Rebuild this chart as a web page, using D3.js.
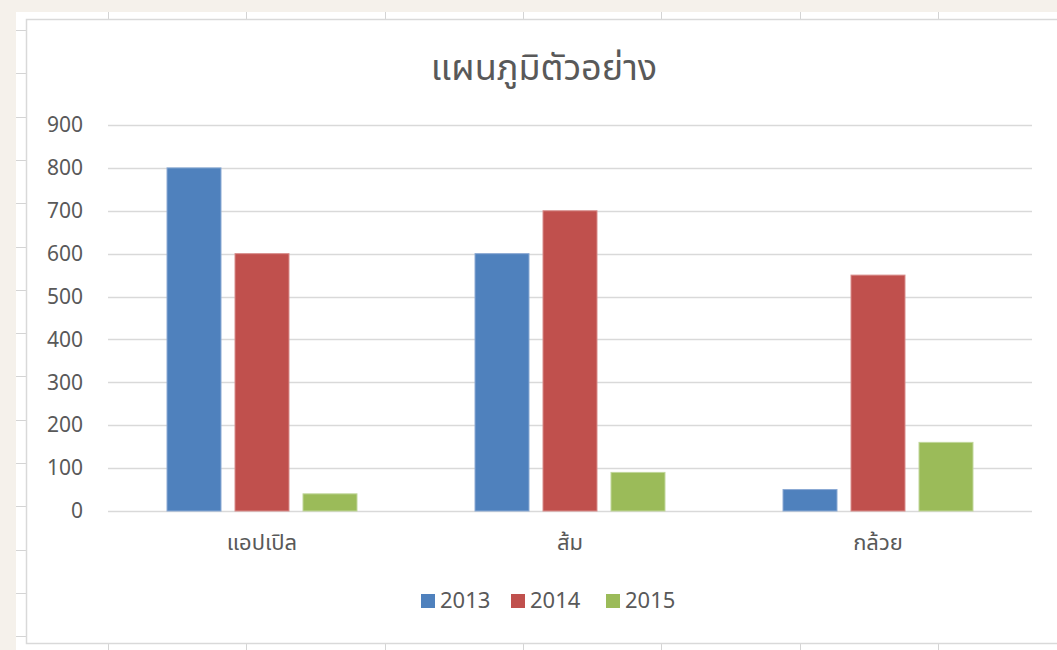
<!DOCTYPE html>
<html>
<head>
<meta charset="utf-8">
<script src="https://cdn.jsdelivr.net/npm/d3@7"></script>
<style>
  body { margin: 0; background: #f5f1eb; }
  svg { display: block; }
  text { font-family: "Noto Sans Thai", "Leelawadee UI", Tahoma, "Noto Sans", "DejaVu Sans", sans-serif; fill: #595959; }
  .axis path, .axis line { display: none; }
</style>
</head>
<body>
<script>
var categories = ["แอปเปิล", "ส้ม", "กล้วย"];
var seriesNames = ["2013", "2014", "2015"];
var values2013 = [800, 600, 50];
var values2014 = [600, 700, 550];
var values2015 = [40, 90, 160];
var yTicks = [0, 100, 200, 300, 400, 500, 600, 700, 800, 900];
var title = "แผนภูมิตัวอย่าง";

var colors = {"2013": "#4f81bd", "2014": "#c0504d", "2015": "#9bbb59"};
var strokes = {"2013": "#8aa9d3", "2014": "#d88c8a", "2015": "#c0d69a"};

var W = 1057, H = 650;
var svg = d3.select("body").append("svg")
    .attr("width", W)
    .attr("height", H);

// spreadsheet behind the chart
svg.append("rect")
    .attr("x", 16).attr("y", 12)
    .attr("width", W - 16).attr("height", H - 12)
    .attr("fill", "#ffffff");

var colLines = d3.range(7).map(function(i) { return 108 + i * 138.3; });
var rowLines = d3.range(15).map(function(i) { return 30 + i * 43.3; });

svg.selectAll(".col")
    .data(colLines)
    .enter().append("line")
    .attr("x1", function(d) { return Math.round(d) + 0.5; })
    .attr("x2", function(d) { return Math.round(d) + 0.5; })
    .attr("y1", 12).attr("y2", H)
    .attr("stroke", "#d4d4d4");

svg.selectAll(".row")
    .data(rowLines.filter(function(d) { return d < H; }))
    .enter().append("line")
    .attr("x1", 16).attr("x2", W)
    .attr("y1", function(d) { return Math.round(d) + 0.5; })
    .attr("y2", function(d) { return Math.round(d) + 0.5; })
    .attr("stroke", "#d4d4d4");

// chart box
svg.append("rect")
    .attr("x", 26.5).attr("y", 19.5)
    .attr("width", W).attr("height", 624)
    .attr("fill", "#ffffff")
    .attr("stroke", "#d9d9d9")
    .attr("stroke-width", 1.5);

var x0 = d3.scaleBand()
    .domain(categories)
    .range([108, 1032]);

var x1 = d3.scaleBand()
    .domain(seriesNames)
    .range([0, x0.bandwidth()])
    .paddingInner(0.206)
    .paddingOuter(0.868);

var y = d3.scaleLinear()
    .domain([0, 900])
    .range([511, 125]);

// gridlines
svg.selectAll(".grid")
    .data(yTicks)
    .enter().append("line")
    .attr("x1", 108).attr("x2", 1032)
    .attr("y1", function(d) { return Math.round(y(d)) + 0.5; })
    .attr("y2", function(d) { return Math.round(y(d)) + 0.5; })
    .attr("stroke", "#d9d9d9")
    .attr("stroke-width", 1.5);

// y axis labels
svg.append("g")
    .attr("class", "axis")
    .attr("transform", "translate(108,0)")
    .call(d3.axisLeft(y).tickValues(yTicks).tickSize(0).tickPadding(25))
    .selectAll("text")
    .style("font-size", "21px")
    .attr("fill", "#595959");

// x axis labels
svg.append("g")
    .attr("class", "axis")
    .attr("transform", "translate(0,511)")
    .call(d3.axisBottom(x0).tickSize(0).tickPadding(23))
    .selectAll("text")
    .style("font-size", "22px")
    .attr("fill", "#595959");

var table = categories.map(function(c, i) {
    return {category: c, values: [
        {name: "2013", value: values2013[i]},
        {name: "2014", value: values2014[i]},
        {name: "2015", value: values2015[i]}
    ]};
});

svg.selectAll(".cat")
    .data(table)
    .enter().append("g")
    .attr("transform", function(d) { return "translate(" + x0(d.category) + ",0)"; })
    .selectAll("rect")
    .data(function(d) { return d.values; })
    .enter().append("rect")
    .attr("x", function(d) { return x1(d.name); })
    .attr("y", function(d) { return y(d.value); })
    .attr("width", x1.bandwidth())
    .attr("height", function(d) { return y(0) - y(d.value); })
    .attr("fill", function(d) { return colors[d.name]; })
    .attr("stroke", function(d) { return strokes[d.name]; })
    .attr("stroke-width", 1);

// title
svg.append("text")
    .attr("x", 544)
    .attr("y", 80)
    .attr("text-anchor", "middle")
    .style("font-size", "36px")
    .text(title);

// legend
var legendX = [421, 511, 606];
var legend = svg.selectAll(".legend")
    .data(seriesNames)
    .enter().append("g")
    .attr("transform", function(d, i) { return "translate(" + legendX[i] + ",594)"; });

legend.append("rect")
    .attr("width", 14).attr("height", 14)
    .attr("fill", function(d) { return colors[d]; });

legend.append("text")
    .attr("x", 19)
    .attr("y", 14)
    .style("font-size", "22px")
    .text(function(d) { return d; });
</script>
</body>
</html>
